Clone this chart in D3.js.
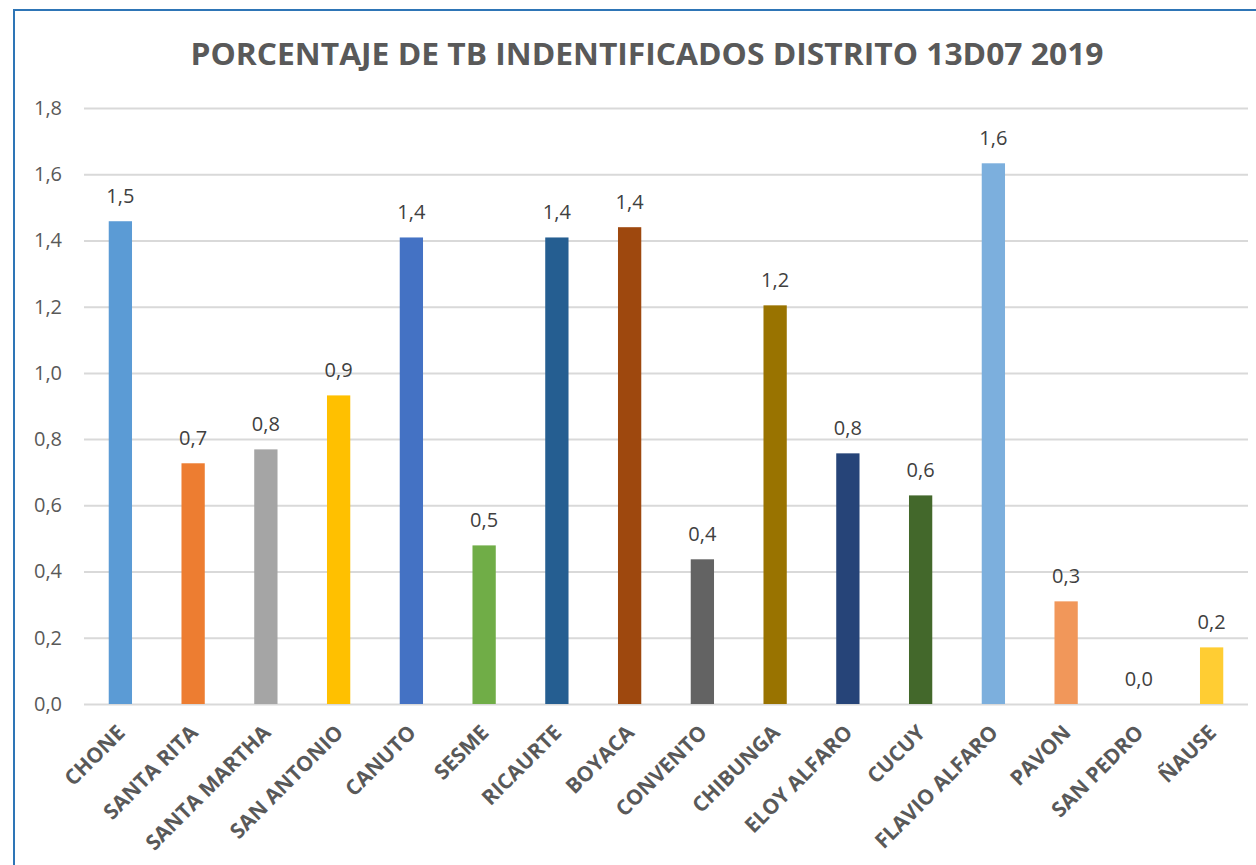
<!DOCTYPE html>
<html>
<head>
<meta charset="utf-8">
<script src="https://cdn.jsdelivr.net/npm/d3@7"></script>
<style>
  body { margin: 0; background: #fff; }
  svg { display: block; font-family: "Open Sans", "Noto Sans", sans-serif; }
</style>
</head>
<body>
<div id="chart"></div>
<script>
const categories = ["CHONE", "SANTA RITA", "SANTA MARTHA", "SAN ANTONIO", "CANUTO", "SESME", "RICAURTE",
  "BOYACA", "CONVENTO", "CHIBUNGA", "ELOY ALFARO", "CUCUY", "FLAVIO ALFARO", "PAVON", "SAN PEDRO", "ÑAUSE"];
const values = [1.458, 0.727, 0.769, 0.932, 1.409, 0.479, 1.409, 1.44, 0.437, 1.204, 0.757, 0.63, 1.633, 0.31, 0, 0.171];
const colors = ["#5B9BD5", "#ED7D31", "#A5A5A5", "#FFC000", "#4472C4", "#70AD47", "#255E91", "#9E480E",
  "#636363", "#997300", "#264478", "#43682B", "#7CAFDD", "#F1975A", "#B7B7B7", "#FFCD33"];
const yTicks = [0, 0.2, 0.4, 0.6, 0.8, 1.0, 1.2, 1.4, 1.6, 1.8];
const title = "PORCENTAJE DE TB INDENTIFICADOS DISTRITO 13D07 2019";

const width = 1256;
const height = 865;
const margin = { top: 108, bottom: 161, left: 84, right: 8 };
const fmt = (v) => v.toFixed(1).replace(".", ",");

const svg = d3.select("#chart").append("svg")
  .attr("width", width)
  .attr("height", height);

// chart border (cropped at right/bottom in the original)
svg.append("rect")
  .attr("x", 14).attr("y", 10)
  .attr("width", 1300).attr("height", 900)
  .attr("fill", "none")
  .attr("stroke", "#2E75B6")
  .attr("stroke-width", 2);

svg.append("text")
  .attr("x", 647).attr("y", 65)
  .attr("text-anchor", "middle")
  .attr("fill", "#595959")
  .style("font-size", "31px")
  .style("font-weight", "bold")
  .attr("textLength", 913)
  .attr("lengthAdjust", "spacingAndGlyphs")
  .text(title);

const x = d3.scaleBand()
  .domain(categories)
  .range([margin.left, width - margin.right])
  .paddingInner(0.68)
  .paddingOuter(0.34);

const y = d3.scaleLinear()
  .domain([0, 1.8])
  .range([height - margin.bottom, margin.top]);

// gridlines + y labels
const yAxis = svg.append("g")
  .attr("transform", `translate(${margin.left},0)`)
  .call(d3.axisLeft(y).tickValues(yTicks).tickFormat(fmt)
    .tickSize(-(width - margin.left - margin.right)).tickPadding(22));
yAxis.select(".domain").remove();
yAxis.selectAll("line").attr("stroke", "#D9D9D9").attr("stroke-width", 2);
yAxis.selectAll("text")
  .attr("fill", "#595959")
  .style("font-size", "20px")
  .style("font-family", "\"Open Sans\", sans-serif");

// bars
svg.append("g").selectAll("rect")
  .data(categories)
  .join("rect")
  .attr("x", (d) => x(d))
  .attr("y", (d, i) => y(values[i]))
  .attr("width", x.bandwidth())
  .attr("height", (d, i) => y(0) - y(values[i]))
  .attr("fill", (d, i) => colors[i]);

// data labels
svg.append("g").selectAll("text")
  .data(categories)
  .join("text")
  .attr("x", (d) => x(d) + x.bandwidth() / 2)
  .attr("y", (d, i) => y(values[i]) - 18)
  .attr("text-anchor", "middle")
  .attr("fill", "#404040")
  .style("font-size", "20px")
  .text((d, i) => fmt(values[i]));

// x labels
const xAxis = svg.append("g")
  .attr("transform", `translate(0,${height - margin.bottom})`)
  .call(d3.axisBottom(x).tickSize(0).tickPadding(0));
xAxis.select(".domain").remove();
xAxis.selectAll("text")
  .attr("fill", "#595959")
  .style("font-size", "21px")
  .style("font-weight", "bold")
  .style("font-family", "\"Open Sans\", sans-serif")
  .style("text-anchor", "end")
  .attr("dy", null)
  .attr("y", 0)
  .attr("transform", "translate(6,30)rotate(-45)");
</script>
</body>
</html>
